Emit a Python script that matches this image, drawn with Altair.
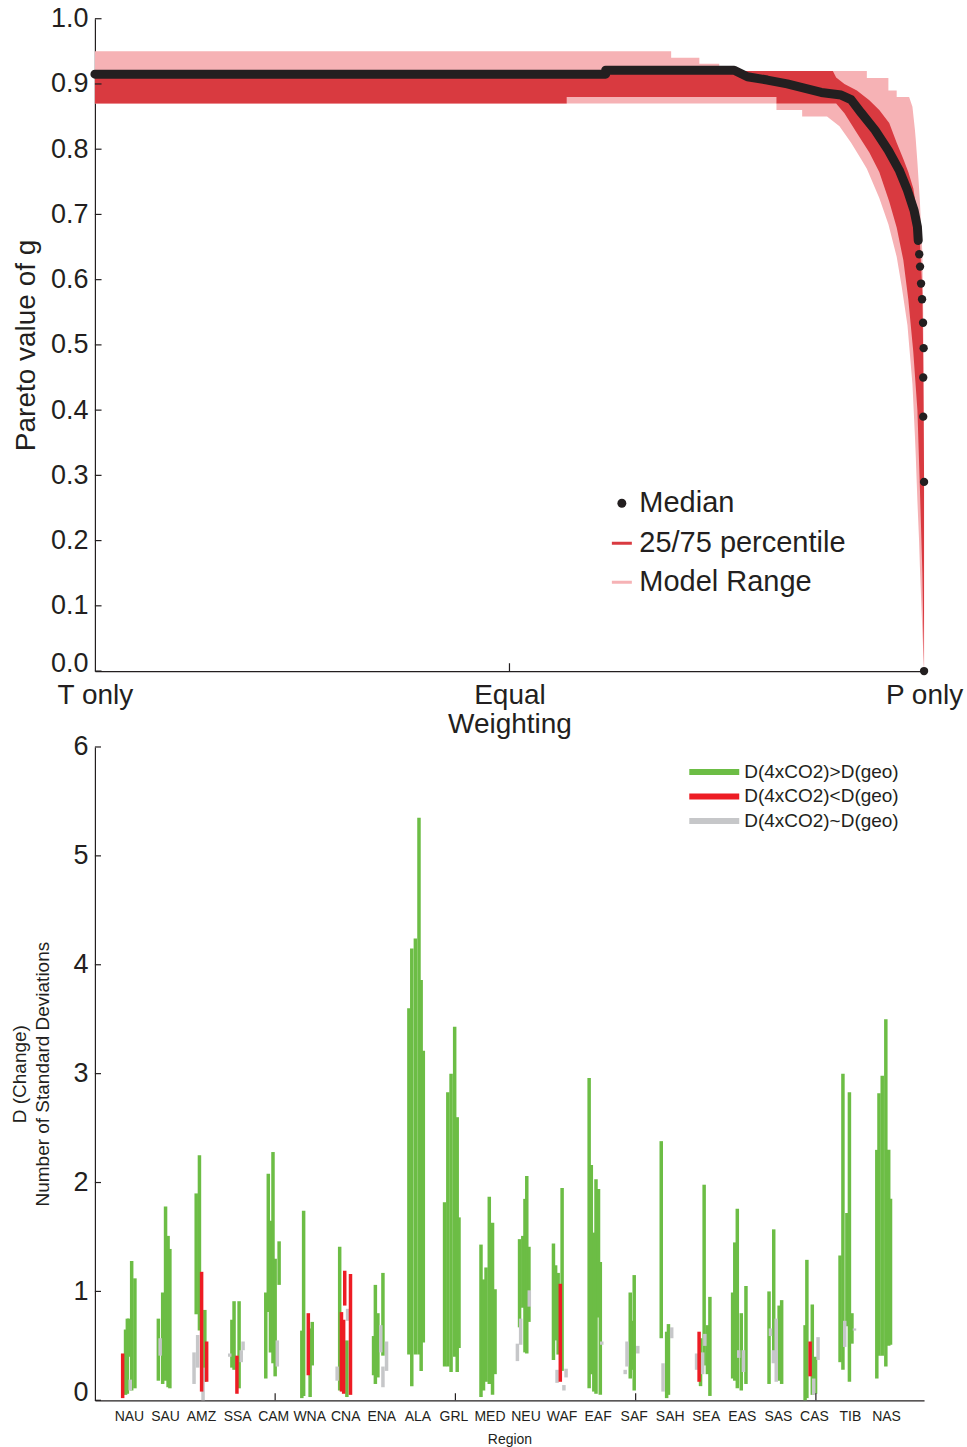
import altair as alt
import pandas as pd

FONT = "Liberation Sans"
INK = "#231f20"
PINK = "#f6b2b5"
RED_BAND = "#d93a40"
GREEN = "#6cbd45"
RED = "#ed1c24"
GREY = "#c6c7c9"

# ---------------- top panel: Pareto value of g vs weighting ----------------
# weighting: 0 = T only, 0.5 = Equal weighting, 1 = P only
range_w = [0.000, 0.695, 0.695, 0.729, 0.729, 0.753, 0.753, 0.822, 0.822, 0.853, 0.853, 0.883,
           0.898, 0.912, 0.924, 0.931, 0.931, 0.936, 0.946, 0.957, 0.957, 0.958, 0.966, 0.967,
           0.967, 0.973, 0.980, 0.982, 0.986, 0.989, 0.990, 0.992, 0.994, 0.995, 0.998, 0.999, 1.000]
range_lo = [0.87, 0.87, 0.87, 0.87, 0.87, 0.87, 0.87, 0.87, 0.86, 0.86, 0.85, 0.85,
            0.835, 0.81, 0.785, 0.77, 0.77, 0.755, 0.725, 0.685, 0.685, 0.68, 0.64, 0.635,
            0.635, 0.59, 0.53, 0.50, 0.44, 0.36, 0.33, 0.26, 0.20, 0.16, 0.06, 0.03, 0.0]
range_hi = [0.95, 0.95, 0.94, 0.94, 0.931, 0.931, 0.92, 0.92, 0.92, 0.92, 0.92, 0.92,
            0.92, 0.92, 0.92, 0.92, 0.909, 0.909, 0.909, 0.909, 0.89, 0.89, 0.89, 0.89,
            0.88, 0.88, 0.88, 0.88, 0.865, 0.83, 0.815, 0.78, 0.74, 0.72, 0.64, 0.55, 0.35]

iqr_w = [0.000, 0.569, 0.569, 0.822, 0.822, 0.890, 0.894, 0.904, 0.919, 0.934, 0.946, 0.958,
         0.967, 0.975, 0.981, 0.987, 0.992, 0.995, 0.998, 0.999, 1.000]
iqr_lo = [0.87, 0.87, 0.88, 0.88, 0.87, 0.87, 0.87, 0.855, 0.825, 0.795, 0.765, 0.72,
          0.68, 0.63, 0.57, 0.49, 0.40, 0.28, 0.15, 0.07, 0.0]
iqr_hi = [0.92, 0.92, 0.92, 0.92, 0.92, 0.92, 0.91, 0.90, 0.89, 0.875, 0.86, 0.84,
          0.81, 0.785, 0.765, 0.74, 0.70, 0.66, 0.58, 0.48, 0.30]

median_w = [0.000, 0.616, 0.616, 0.771, 0.787, 0.811, 0.835, 0.876, 0.900, 0.912, 0.924,
            0.941, 0.957, 0.970, 0.980, 0.988, 0.992, 0.993]
median_v = [0.915, 0.915, 0.921, 0.921, 0.911, 0.906, 0.900, 0.887, 0.883, 0.876, 0.856,
            0.829, 0.798, 0.768, 0.737, 0.706, 0.681, 0.660]
median_end_w = [0.9942, 0.9952, 0.9964, 0.9976, 0.9988, 0.9995, 0.9990, 0.9990, 1.0, 1.0]
median_end_v = [0.639, 0.620, 0.594, 0.570, 0.534, 0.495, 0.450, 0.390, 0.290, 0.0]

median_legend_names = ["Median"]
band_legend_names = ["25/75 percentile", "Model Range"]
band_legend_colors = [RED_BAND, PINK]
top_y_ticks = [0.0, 0.1, 0.2, 0.3, 0.4, 0.5, 0.6, 0.7, 0.8, 0.9, 1.0]
top_x_ticks = [0.0, 0.5, 1.0]
top_x_inner_ticks = [0.5]

# ---------------- bottom panel: D(Change) by region ----------------
regions = ["NAU", "SAU", "AMZ", "SSA", "CAM", "WNA", "CNA", "ENA", "ALA", "GRL", "MED",
           "NEU", "WAF", "EAF", "SAF", "SAH", "SEA", "EAS", "SAS", "CAS", "TIB", "NAS"]
cat_names = {"G": "D(4xCO2)>D(geo)", "R": "D(4xCO2)<D(geo)", "N": "D(4xCO2)~D(geo)"}
cat_order = ["D(4xCO2)>D(geo)", "D(4xCO2)<D(geo)", "D(4xCO2)~D(geo)"]
cat_colors = [GREEN, RED, GREY]

bar_region = (
    ["NAU"] * 7 + ["SAU"] * 6 + ["AMZ"] * 8 + ["SSA"] * 7 + ["CAM"] * 7 + ["WNA"] * 5 +
    ["CNA"] * 8 + ["ENA"] * 7 + ["ALA"] * 6 + ["GRL"] * 6 + ["MED"] * 6 + ["NEU"] * 8 +
    ["WAF"] * 8 + ["EAF"] * 7 + ["SAF"] * 6 + ["SAH"] * 5 + ["SEA"] * 8 + ["EAS"] * 7 +
    ["SAS"] * 7 + ["CAS"] * 7 + ["TIB"] * 7 + ["NAS"] * 6
)
bar_offset = [
    -0.23, -0.15, -0.10, -0.06, -0.02, 0.02, 0.11,            # NAU
    -0.24, -0.19, -0.12, -0.04, 0.03, 0.08,                   # SAU
    -0.25, -0.19, -0.15, -0.10, -0.04, 0.00, 0.05, 0.10,      # AMZ
    -0.26, -0.20, -0.14, -0.06, 0.00, 0.06, 0.11,             # SSA
    -0.26, -0.19, -0.13, -0.06, 0.00, 0.06, 0.11,             # CAM
    -0.26, -0.21, -0.08, -0.03, 0.03,                         # WNA
    -0.28, -0.21, -0.16, -0.10, -0.07, -0.01, 0.01, 0.09,     # CNA
    -0.27, -0.22, -0.15, -0.07, -0.01, -0.01, 0.09,           # ENA
    -0.29, -0.21, -0.11, -0.01, 0.05, 0.11,                   # ALA
    -0.30, -0.21, -0.12, -0.02, 0.05, 0.10,                   # GRL
    -0.29, -0.22, -0.15, -0.06, 0.03, 0.10,                   # MED
    -0.28, -0.22, -0.19, -0.13, -0.07, -0.02, 0.04, 0.05,     # NEU
    -0.28, -0.22, -0.18, -0.15, -0.09, -0.04, 0.01, 0.07,     # WAF
    -0.29, -0.23, -0.16, -0.10, -0.03, 0.02, 0.06,            # EAF
    -0.29, -0.24, -0.15, -0.09, -0.04, 0.06,                  # SAF
    -0.29, -0.24, -0.14, -0.09, 0.00,                         # SAH
    -0.31, -0.24, -0.20, -0.14, -0.10, -0.08, -0.01, 0.06,    # SEA
    -0.31, -0.25, -0.18, -0.14, -0.07, -0.01, 0.06,           # EAS
    -0.30, -0.26, -0.18, -0.17, -0.10, -0.02, 0.05,           # SAS
    -0.30, -0.25, -0.16, -0.10, -0.06, -0.01, 0.06,           # CAS
    -0.33, -0.25, -0.20, -0.14, -0.07, 0.00, 0.07,            # TIB
    -0.31, -0.25, -0.16, -0.06, 0.02, 0.07,                   # NAS
]
bar_low = [
    0.02, 0.05, 0.06, 0.40, 0.09, 0.09, 0.11,
    0.18, 0.41, 0.15, 0.18, 0.12, 0.11,
    0.15, 0.79, 0.30, 0.64, 0.08, 0.00, 0.17, 0.17,
    0.40, 0.30, 0.28, 0.06, 0.11, 0.35, 0.46,
    0.20, 0.81, 0.44, 0.34, 0.22, 0.31, 1.06,
    0.02, 0.04, 0.23, 0.03, 0.32,
    0.18, 0.09, 0.08, 0.06, 0.87, 0.03, 0.73, 0.05,
    0.23, 0.15, 0.21, 0.44, 0.41, 0.12, 0.27,
    0.42, 0.13, 0.42, 0.42, 0.27, 0.53,
    0.31, 0.31, 0.26, 0.40, 0.26, 0.48,
    0.03, 0.09, 0.17, 0.15, 0.05, 0.24,
    0.36, 0.67, 0.51, 0.85, 0.44, 0.43, 0.72, 0.86,
    0.37, 0.55, 0.16, 0.42, 0.17, 0.27, 0.09, 0.21,
    0.11, 0.24, 0.08, 0.06, 0.76, 0.05, 0.51,
    0.24, 0.31, 0.20, 0.28, 0.09, 0.43,
    0.57, 0.08, 0.02, 0.05, 0.57,
    0.28, 0.17, 0.13, 0.24, 0.32, 0.50, 0.24, 0.04,
    0.20, 0.18, 0.11, 0.39, 0.09, 0.26, 0.15,
    0.15, 0.59, 0.34, 0.40, 0.17, 0.18, 0.15,
    0.00, 0.02, 0.22, 0.05, 0.05, 0.06, 0.37,
    0.35, 0.28, 0.49, 0.68, 0.17, 0.52, 0.64,
    0.20, 0.41, 0.41, 0.31, 0.50, 0.51,
]
bar_high = [
    0.43, 0.65, 0.75, 0.75, 0.19, 1.28, 1.12,
    0.75, 0.57, 0.99, 1.78, 1.51, 1.39,
    0.44, 1.90, 0.60, 2.25, 1.18, 0.30, 0.83, 0.54,
    0.43, 0.74, 0.91, 0.41, 0.91, 0.46, 0.54,
    0.99, 2.08, 1.65, 2.28, 1.30, 0.55, 1.46,
    0.64, 1.74, 0.80, 0.66, 0.72,
    0.31, 1.41, 0.81, 0.74, 1.19, 0.55, 0.84, 1.16,
    0.59, 1.06, 0.80, 0.69, 1.17, 0.31, 0.54,
    3.60, 4.15, 4.24, 5.35, 3.86, 3.21,
    1.82, 2.83, 3.00, 3.43, 2.60, 1.68,
    1.43, 1.11, 1.22, 1.87, 1.63, 1.02,
    0.52, 1.48, 0.75, 1.51, 1.85, 2.06, 1.41, 1.01,
    1.44, 1.24, 0.28, 1.17, 1.07, 1.95, 0.14, 0.29,
    2.96, 2.16, 1.54, 2.03, 1.94, 1.27, 0.54,
    0.28, 0.54, 0.99, 0.73, 1.15, 0.50,
    2.38, 0.34, 0.63, 0.70, 0.67,
    0.43, 0.63, 0.57, 0.44, 1.98, 0.61, 0.69, 0.95,
    0.99, 1.45, 1.76, 0.46, 0.80, 0.46, 1.05,
    1.00, 0.66, 0.46, 1.57, 0.75, 0.87, 0.92,
    0.69, 1.29, 0.54, 0.88, 0.20, 0.40, 0.58,
    1.33, 3.00, 0.73, 1.72, 2.83, 0.80, 0.66,
    2.30, 2.82, 2.98, 3.50, 2.30, 1.85,
]
bar_cat = [
    "R", "G", "G", "G", "N", "G", "G",
    "G", "N", "G", "G", "G", "G",
    "N", "G", "N", "G", "R", "N", "G", "R",
    "N", "G", "G", "R", "G", "N", "N",
    "G", "G", "G", "G", "G", "N", "G",
    "G", "G", "R", "G", "G",
    "N", "G", "R", "R", "R", "G", "N", "R",
    "G", "G", "G", "N", "G", "N", "N",
    "G", "G", "G", "G", "G", "G",
    "G", "G", "G", "G", "G", "G",
    "G", "G", "G", "G", "G", "G",
    "N", "G", "N", "G", "G", "G", "G", "N",
    "G", "G", "N", "G", "R", "G", "N", "N",
    "G", "G", "G", "G", "G", "G", "N",
    "N", "N", "G", "G", "G", "N",
    "G", "N", "G", "G", "N",
    "N", "R", "G", "N", "G", "N", "G", "G",
    "G", "G", "G", "N", "G", "N", "G",
    "G", "N", "N", "G", "N", "G", "G",
    "G", "G", "R", "G", "N", "G", "N",
    "G", "G", "N", "G", "G", "G", "N",
    "G", "G", "G", "G", "G", "G",
]
bottom_y_ticks = [0, 1, 2, 3, 4, 5, 6]
bottom_x_inner_ticks = [5, 10, 15, 20]

# ---------------- build tables ----------------
range_df = pd.DataFrame({"w": range_w, "lo": range_lo, "hi": range_hi})
iqr_df = pd.DataFrame({"w": iqr_w, "lo": iqr_lo, "hi": iqr_hi})
median_df = pd.DataFrame({"w": median_w, "lo": median_v, "i": range(len(median_w))})
median_end_df = pd.DataFrame({"w": median_end_w, "lo": median_end_v})
median_legend_df = pd.DataFrame({"name": median_legend_names, "w": [0.0], "lo": [0.0]})
band_legend_df = pd.DataFrame({"name": band_legend_names, "w": [0.0, 0.0], "lo": [0.0, 0.0]})
top_yt_df = pd.DataFrame({"lo": top_y_ticks})
top_xt_df = pd.DataFrame({"w": top_x_inner_ticks})

n = len(bar_region)
assert n == len(bar_offset) == len(bar_low) == len(bar_high) == len(bar_cat)
bars = pd.DataFrame({
    "region": bar_region,
    "offset": bar_offset,
    "low": bar_low,
    "high": bar_high,
    "cat": [cat_names[c] for c in bar_cat],
    "rank": [{"G": 0, "N": 1, "R": 2}[c] for c in bar_cat],
})
bars["pos"] = [regions.index(r) + 1 + o for r, o in zip(bars["region"], bars["offset"])]
bars = bars.sort_values("rank", kind="stable").reset_index(drop=True)
bot_yt_df = pd.DataFrame({"low": bottom_y_ticks})
bot_xt_df = pd.DataFrame({"pos": bottom_x_inner_ticks})

zero_baseline = {"condition": {"test": "datum.value == 0", "value": "alphabetic"}, "value": "middle"}

# ---------------- shared axis / scale definitions ----------------
x_top_scale = alt.Scale(domain=[0, 1], nice=False, zero=False)
y_top_scale = alt.Scale(domain=[0, 1], nice=False, zero=False)
x_top_axis = alt.Axis(
    values=top_x_ticks,
    labelExpr="datum.value == 0 ? 'T only' : (datum.value == 1 ? 'P only' : ['Equal', 'Weighting'])",
    labelFontSize=28, labelFont=FONT, labelColor=INK, labelFlush=False,
    labelOverlap=False, labelPadding=10, labelLineHeight=30,
    ticks=False, tickSize=0, domainColor=INK, domainWidth=1.2,
    title=None, grid=False,
)
y_top_axis = alt.Axis(
    values=top_y_ticks, format=".1f",
    labelFontSize=27, labelFont=FONT, labelColor=INK, labelPadding=7,
    labelBaseline=zero_baseline, labelOverlap=False,
    ticks=False, tickSize=0, domainColor=INK, domainWidth=1.2,
    title="Pareto value of g", titleFontSize=28, titleFont=FONT, titleColor=INK,
    titleFontWeight="normal", titlePadding=10, grid=False,
)


def X_top(field="w:Q"):
    return alt.X(field, scale=x_top_scale, axis=x_top_axis)


def Y_top(field="lo:Q"):
    return alt.Y(field, scale=y_top_scale, axis=y_top_axis)


# ---------------- top chart ----------------
pink = alt.Chart(range_df).mark_area(color=PINK, opacity=1).encode(
    x=X_top(), y=Y_top(), y2="hi:Q"
)
red = alt.Chart(iqr_df).mark_area(color=RED_BAND, opacity=1).encode(
    x=X_top(), y=Y_top(), y2="hi:Q"
)
med_line = alt.Chart(median_df).mark_line(
    color=INK, strokeWidth=9, strokeCap="round", strokeJoin="round"
).encode(x=X_top(), y=Y_top(), order="i:Q")
med_dots = alt.Chart(median_end_df).mark_circle(color=INK, size=70, opacity=1).encode(
    x=X_top(), y=Y_top()
)
top_yticks = alt.Chart(top_yt_df).mark_rule(color=INK, strokeWidth=1.2).encode(
    y=Y_top(),
    x=alt.XDatum(0, scale=x_top_scale, axis=x_top_axis),
    x2=alt.X2Datum(0.008),
)
top_xticks = alt.Chart(top_xt_df).mark_rule(color=INK, strokeWidth=1.2).encode(
    x=X_top(),
    y=alt.YDatum(0, scale=y_top_scale, axis=y_top_axis),
    y2=alt.Y2Datum(0.012),
)
median_legend = alt.Chart(median_legend_df).transform_filter("false").mark_point(
    filled=True, color=INK, size=80, opacity=1
).encode(
    x=X_top(), y=Y_top(),
    shape=alt.Shape(
        "name:N",
        scale=alt.Scale(domain=median_legend_names, range=["circle"]),
        legend=alt.Legend(
            orient="none", legendX=513, legendY=471, title=None,
            symbolSize=80, symbolFillColor=INK, symbolStrokeWidth=0, symbolOpacity=1,
            labelFontSize=29, labelFont=FONT, labelColor=INK, labelOffset=3,
            labelLimit=400, clipHeight=28, padding=0,
        ),
    ),
)
band_legend = alt.Chart(band_legend_df).transform_filter("false").mark_rule().encode(
    x=X_top(), y=Y_top(),
    color=alt.Color(
        "name:N",
        scale=alt.Scale(domain=band_legend_names, range=band_legend_colors),
        legend=alt.Legend(
            orient="none", legendX=513, legendY=511, title=None,
            symbolType="stroke", symbolSize=400, symbolStrokeWidth=3,
            labelFontSize=29, labelFont=FONT, labelColor=INK, labelOffset=3,
            labelLimit=400, clipHeight=28, rowPadding=10, padding=0,
        ),
    ),
)
top = alt.layer(
    pink, red, med_line, med_dots, top_yticks, top_xticks, median_legend, band_legend
).properties(width=830, height=653)

# ---------------- bottom chart ----------------
label_js = "[" + ",".join("'" + r + "'" for r in regions) + "]"
x_bot_scale = alt.Scale(domain=[0, len(regions) + 1], nice=False, zero=False)
y_bot_scale = alt.Scale(domain=[0, 6], nice=False, zero=False)
x_bot_axis = alt.Axis(
    values=list(range(1, len(regions) + 1)),
    labelExpr=label_js + "[datum.value - 1]",
    labelFontSize=14, labelFont=FONT, labelColor=INK, labelPadding=9,
    labelOffset=-2, labelOverlap=False, labelFlush=False, ticks=False, tickSize=0,
    domainColor=INK, domainWidth=1.2,
    title="Region", titleFontSize=14, titleFont=FONT, titleColor=INK,
    titleFontWeight="normal", titlePadding=9, grid=False,
)
y_bot_axis = alt.Axis(
    values=bottom_y_ticks, labelFontSize=27, labelFont=FONT, labelColor=INK,
    labelPadding=7, labelBaseline=zero_baseline, format="d", labelOverlap=False,
    ticks=False, tickSize=0, domainColor=INK, domainWidth=1.2,
    title=["D (Change)", "Number of Standard Deviations"], titleFontSize=19,
    titleFont=FONT, titleColor=INK, titleFontWeight="normal",
    titlePadding=20, titleLineHeight=23, grid=False,
)

bars_layer = alt.Chart(bars).mark_rule(strokeWidth=3.5).encode(
    x=alt.X("pos:Q", scale=x_bot_scale, axis=x_bot_axis),
    y=alt.Y("low:Q", scale=y_bot_scale, axis=y_bot_axis),
    y2="high:Q",
    color=alt.Color(
        "cat:N",
        scale=alt.Scale(domain=cat_order, range=cat_colors),
        legend=alt.Legend(
            orient="none", legendX=592, legendY=16, title=None,
            symbolType="stroke", symbolSize=2500, symbolStrokeWidth=6,
            labelFontSize=19, labelFont=FONT, labelColor=INK, labelOffset=2,
            labelLimit=400, clipHeight=18, rowPadding=5.5, padding=0,
        ),
    ),
)
bot_yticks = alt.Chart(bot_yt_df).mark_rule(color=INK, strokeWidth=1.2).encode(
    y=alt.Y("low:Q", scale=y_bot_scale, axis=y_bot_axis),
    x=alt.XDatum(0, scale=x_bot_scale, axis=x_bot_axis),
    x2=alt.X2Datum(0.17),
)
bot_xticks = alt.Chart(bot_xt_df).mark_rule(color=INK, strokeWidth=1.2).encode(
    x=alt.X("pos:Q", scale=x_bot_scale, axis=x_bot_axis),
    y=alt.YDatum(0, scale=y_bot_scale, axis=y_bot_axis),
    y2=alt.Y2Datum(0.065),
)
bottom = alt.layer(bars_layer, bot_yticks, bot_xticks).properties(width=830, height=654)

chart = alt.vconcat(top, bottom, spacing=76, bounds="flush").resolve_scale(
    color="independent", shape="independent", x="independent", y="independent"
).properties(
    padding={"left": 10, "top": 4, "right": 4, "bottom": 4}, background="white"
).configure_view(strokeWidth=0, stroke=None)

chart.save("out.html", embed_options={"renderer": "svg", "actions": False})
